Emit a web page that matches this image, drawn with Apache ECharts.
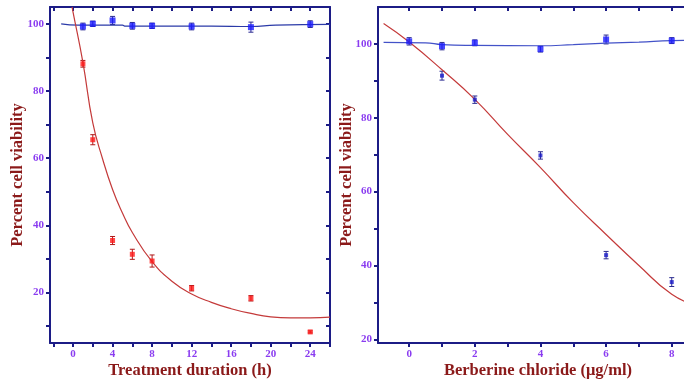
<!DOCTYPE html>
<html>
<head>
<meta charset="utf-8">
<script src="https://cdn.jsdelivr.net/npm/echarts@6/dist/echarts.min.js"></script>
<style>
html, body { margin: 0; padding: 0; background: #fff; }
#chart { width: 684px; height: 379px; }
</style>
</head>
<body>
<div id="chart"></div>
<script>
// left panel: treatment duration (h)
var timeX = [1, 2, 4, 6, 8, 12, 18, 24];
var timeControl = [99.2, 100, 101, 99.4, 99.4, 99.2, 99, 99.9];
var timeControlErr = [1, 0.8, 1.2, 1, 0.8, 1, 1.5, 1];
var timeTreated = [88.1, 65.5, 35.5, 31.4, 29.4, 21.3, 18.3, 8.3];
var timeTreatedErr = [1, 1.5, 1.2, 1.5, 1.8, 0.8, 0.8, 0.3];
var timeControlFit = [[-1.2, 100], [0.5, 99.6], [5, 99.6], [5.3, 99.3], [14, 99.3], [18, 99.2], [20.5, 99.6], [26, 99.8]];
var timeTreatedFit = [[-0.1, 105], [0, 103.5], [1, 88.5], [2, 70.5], [3, 59.7], [4, 50.7], [5, 43.7], [6, 37.9],
  [8, 29.2], [10, 23.4], [12, 19.6], [14, 17.1], [16, 15.2], [18, 13.8], [20, 12.8], [22, 12.5], [24, 12.5], [26, 12.7]];

// right panel: berberine chloride (ug/ml)
var doseX = [0, 1, 2, 4, 6, 8];
var doseControl = [100.7, 99.4, 100.3, 98.6, 101.2, 100.9];
var doseControlErr = [1, 1, 0.8, 0.8, 1.2, 0.8];
var doseTreatedX = [1, 2, 4, 6, 8];
var doseTreated = [91.4, 84.9, 69.8, 42.8, 35.5];
var doseTreatedErr = [1.2, 1, 1, 1, 1.2];
var doseControlFit = [[-0.78, 100.4], [0.5, 100.3], [1, 99.8], [2, 99.6], [4, 99.5], [5, 99.8], [6, 100.2], [7, 100.5], [8, 100.9], [8.8, 101]];
var doseTreatedFit = [[-0.78, 105.5], [0, 100.5], [1, 93], [2, 85], [3, 75.5], [4, 66.5], [5, 57], [6, 48.4], [7, 40], [8, 32.2], [8.8, 29]];

var timeLabels = [0, 4, 8, 12, 16, 20, 24];
var timeTicks = [-2, 0, 2, 4, 6, 8, 10, 12, 14, 16, 18, 20, 22, 24, 26];
var doseLabels = [0, 2, 4, 6, 8];
var doseTicks = [0, 1, 2, 3, 4, 5, 6, 7, 8];
var yLabels = [20, 40, 60, 80, 100];
var yTicksLeft = [10, 20, 30, 40, 50, 60, 70, 80, 90, 100];
var yTicksRight = [20, 30, 40, 50, 60, 70, 80, 90, 100];

var FONT = '"Liberation Serif", "DejaVu Serif", serif';
var AXIS = '#1c1c86';
var LABEL = '#8a3cf0';
var TITLE = '#8b1a1a';

function zip(xs, ys) {
  var out = [];
  for (var i = 0; i < xs.length; i++) out.push([xs[i], ys[i]]);
  return out;
}
function errData(xs, ys, es) {
  var out = [];
  for (var i = 0; i < xs.length; i++) out.push([xs[i], ys[i] - es[i], ys[i] + es[i]]);
  return out;
}
function errSeries(idx, data, color) {
  return {
    type: 'custom', xAxisIndex: idx * 2, yAxisIndex: idx * 2, z: 3,
    renderItem: function (params, api) {
      var lo = api.coord([api.value(0), api.value(1)]);
      var hi = api.coord([api.value(0), api.value(2)]);
      var w = 2.5;
      var st = { stroke: color, lineWidth: 1 };
      return {
        type: 'group',
        children: [
          { type: 'line', shape: { x1: lo[0], y1: lo[1], x2: hi[0], y2: hi[1] }, style: st },
          { type: 'line', shape: { x1: lo[0] - w, y1: lo[1], x2: lo[0] + w, y2: lo[1] }, style: st },
          { type: 'line', shape: { x1: hi[0] - w, y1: hi[1], x2: hi[0] + w, y2: hi[1] }, style: st }
        ]
      };
    },
    data: data
  };
}
function xAxes(grid, min, max, labels, ticks, name) {
  return [{
    type: 'value', gridIndex: grid, min: min, max: max, position: 'bottom',
    name: name, nameLocation: 'middle', nameGap: 19, nameMoveOverlap: false,
    nameTextStyle: { color: TITLE, fontFamily: FONT, fontWeight: 'bold', fontSize: 16.5 },
    axisLine: { show: true, onZero: false, lineStyle: { color: AXIS, width: 2 } },
    axisTick: { show: true, length: 4, lineStyle: { color: AXIS, width: 2 }, customValues: ticks },
    axisLabel: { color: LABEL, fontFamily: FONT, fontWeight: 'bold', fontSize: 11, margin: 6, customValues: labels },
    splitLine: { show: false }
  }, {
    type: 'value', gridIndex: grid, min: min, max: max, position: 'top',
    axisLine: { show: true, onZero: false, lineStyle: { color: AXIS, width: 2 } },
    axisTick: { show: true, inside: true, length: 4, lineStyle: { color: AXIS, width: 2 }, customValues: ticks },
    axisLabel: { show: false, customValues: labels },
    splitLine: { show: false }
  }];
}
function yAxes(grid, min, max, ticks, mirror, gap) {
  return [{
    type: 'value', gridIndex: grid, min: min, max: max, position: 'left',
    name: 'Percent cell viability', nameLocation: 'middle', nameGap: gap, nameMoveOverlap: false,
    nameTextStyle: { color: TITLE, fontFamily: FONT, fontWeight: 'bold', fontSize: 16.5 },
    axisLine: { show: true, onZero: false, lineStyle: { color: AXIS, width: 2 } },
    axisTick: { show: true, length: 4, lineStyle: { color: AXIS, width: 2 }, customValues: ticks },
    axisLabel: { color: LABEL, fontFamily: FONT, fontWeight: 'bold', fontSize: 11, margin: 6, customValues: yLabels },
    splitLine: { show: false }
  }, {
    type: 'value', gridIndex: grid, min: min, max: max, position: 'right',
    axisLine: { show: mirror, onZero: false, lineStyle: { color: AXIS, width: 2 } },
    axisTick: { show: mirror, inside: true, length: 4, lineStyle: { color: AXIS, width: 2 }, customValues: ticks },
    axisLabel: { show: false, customValues: yLabels },
    splitLine: { show: false }
  }];
}

var chart = echarts.init(document.getElementById('chart'));
chart.setOption({
  animation: false,
  backgroundColor: '#fff',
  grid: [
    { left: 50, top: 7, width: 280, height: 336, outerBoundsMode: 'none' },
    { left: 378, top: 7, width: 320, height: 336, outerBoundsMode: 'none' }
  ],
  xAxis: xAxes(0, -2.33, 26, timeLabels, timeTicks, 'Treatment duration (h)')
    .concat(xAxes(1, -0.95, 8.8, doseLabels, doseTicks, 'Berberine chloride (μg/ml)')),
  yAxis: yAxes(0, 5, 105, yTicksLeft, true, 24).concat(yAxes(1, 19, 110, yTicksRight, false, 23)),
  series: [
    { type: 'line', xAxisIndex: 0, yAxisIndex: 0, data: timeControlFit, smooth: true, showSymbol: false,
      lineStyle: { color: '#2b3aa8', width: 1.2 } },
    { type: 'line', xAxisIndex: 0, yAxisIndex: 0, data: timeTreatedFit, smooth: true, showSymbol: false,
      lineStyle: { color: '#c43a3a', width: 1.2 } },
    errSeries(0, errData(timeX, timeControl, timeControlErr), '#2a2a90'),
    errSeries(0, errData(timeX, timeTreated, timeTreatedErr), '#b01818'),
    { type: 'scatter', xAxisIndex: 0, yAxisIndex: 0, data: zip(timeX, timeControl), symbol: 'rect', symbolSize: 6,
      itemStyle: { color: '#1a1aff' }, z: 4 },
    { type: 'scatter', xAxisIndex: 0, yAxisIndex: 0, data: zip(timeX, timeTreated), symbol: 'rect', symbolSize: 5,
      itemStyle: { color: '#ff1a1a' }, z: 4 },

    { type: 'line', xAxisIndex: 2, yAxisIndex: 2, data: doseControlFit, smooth: true, showSymbol: false,
      lineStyle: { color: '#4352c8', width: 1.2 } },
    { type: 'line', xAxisIndex: 2, yAxisIndex: 2, data: doseTreatedFit, smooth: true, showSymbol: false,
      lineStyle: { color: '#c43a3a', width: 1.2 } },
    errSeries(1, errData(doseX, doseControl, doseControlErr), '#2a2a90'),
    errSeries(1, errData(doseTreatedX, doseTreated, doseTreatedErr), '#2a2a90'),
    { type: 'scatter', xAxisIndex: 2, yAxisIndex: 2, data: zip(doseX, doseControl), symbol: 'rect', symbolSize: 6,
      itemStyle: { color: '#1a1aff' }, z: 4 },
    { type: 'scatter', xAxisIndex: 2, yAxisIndex: 2, data: zip(doseTreatedX, doseTreated), symbol: 'rect', symbolSize: 4,
      itemStyle: { color: '#1a1ac8' }, z: 4 }
  ]
});
</script>
</body>
</html>
